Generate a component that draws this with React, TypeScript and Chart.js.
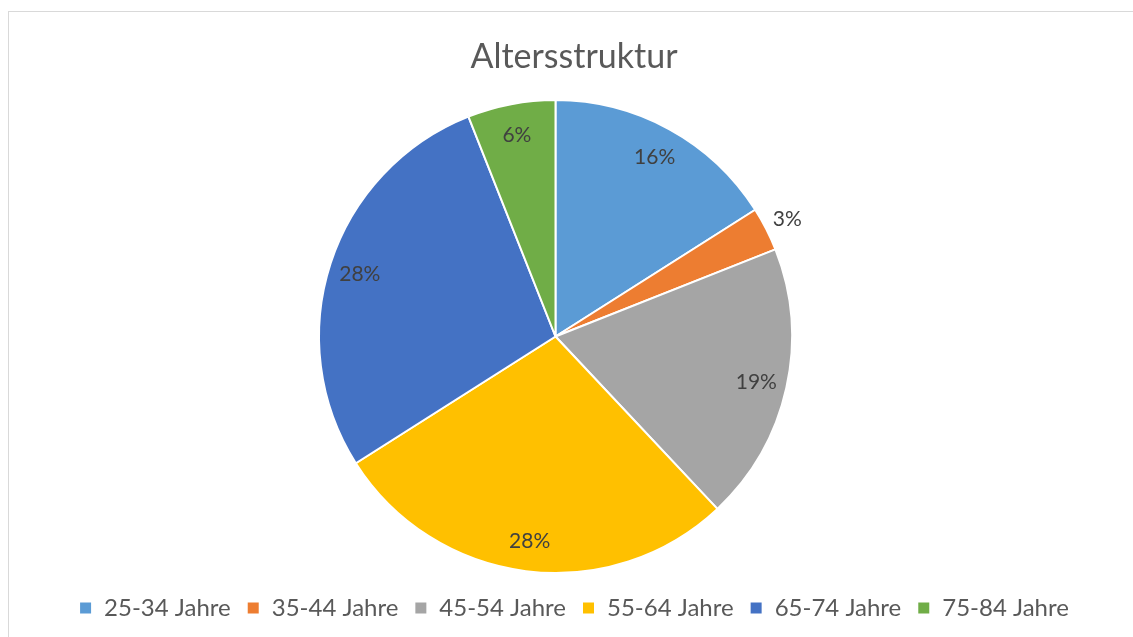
import React, { useEffect, useRef } from "react";
import { Chart, registerables } from "chart.js";

Chart.register(...registerables);

const categories = ["25-34 Jahre", "35-44 Jahre", "45-54 Jahre", "55-64 Jahre", "65-74 Jahre", "75-84 Jahre"];
const values = [16, 3, 19, 28, 28, 6];
const sliceColors = ["#5B9BD5", "#ED7D31", "#A5A5A5", "#FFC000", "#4472C4", "#70AD47"];
const chartTitle = "Altersstruktur";

const FONT = "Lato, 'Open Sans', sans-serif";

// Place the plot area (the pie's square) like the original's plot area.
const plotAreaPlugin = {
  id: "plotArea",
  afterLayout(chart: any) {
    const cx = 546.5;
    const cy = 324.5;
    const size = 475;
    const a = chart.chartArea;
    a.left = cx - size / 2;
    a.right = cx + size / 2;
    a.top = cy - size / 2;
    a.bottom = cy + size / 2;
    a.width = size;
    a.height = size;
  },
};

const labelPlugin = {
  id: "sliceLabels",
  afterDatasetsDraw(chart: any) {
    const ctx = chart.ctx;
    const meta = chart.getDatasetMeta(0);
    const total = values.reduce((s, v) => s + v, 0);
    ctx.save();
    ctx.font = `21px ${FONT}`;
    ctx.fillStyle = "#404040";
    ctx.textAlign = "center";
    ctx.textBaseline = "middle";
    meta.data.forEach((arc: any, i: number) => {
      const { x, y, startAngle, endAngle, outerRadius } = arc.getProps(
        ["x", "y", "startAngle", "endAngle", "outerRadius"],
        true
      );
      const mid = (startAngle + endAngle) / 2;
      const pct = (values[i] / total) * 100;
      const r = outerRadius * (pct < 5 ? 1.1 : 0.87);
      ctx.fillText(`${Math.round(pct)}%`, x + Math.cos(mid) * r, y + Math.sin(mid) * r + 1);
    });
    ctx.restore();
  },
};

export default function App() {
  const ref = useRef<HTMLCanvasElement>(null);
  useEffect(() => {
    document.body.style.overflow = "hidden";
    const chart = new Chart(ref.current as HTMLCanvasElement, {
      type: "pie",
      data: {
        labels: categories,
        datasets: [
          {
            data: values,
            backgroundColor: sliceColors,
            borderColor: "#ffffff",
            borderWidth: 2,
            clip: false,
          } as any,
        ],
      },
      options: {
        responsive: false,
        maintainAspectRatio: false,
        animation: false,
        layout: { padding: { top: 15, bottom: 7, left: 6 } },
        plugins: {
          title: {
            display: true,
            text: chartTitle,
            color: "#595959",
            font: { family: FONT, size: 34, weight: "normal" as any },
            padding: { top: 10, bottom: 10 },
          },
          legend: {
            position: "bottom",
            labels: {
              color: "#595959",
              font: { family: FONT, size: 24 },
              boxWidth: 13,
              boxHeight: 13,
              padding: 16,
            },
          },
          tooltip: { enabled: false },
        },
      },
      plugins: [plotAreaPlugin, labelPlugin],
    });
    return () => chart.destroy();
  }, []);
  return (
    <div
      style={{
        position: "fixed",
        left: 8,
        top: 11,
        width: 1124,
        height: 625,
        borderLeft: "1px solid #d9d9d9",
        borderTop: "1px solid #d9d9d9",
        background: "#ffffff",
      }}
    >
      <canvas ref={ref} width={1124} height={625} style={{ display: "block" }} />
    </div>
  );
}
